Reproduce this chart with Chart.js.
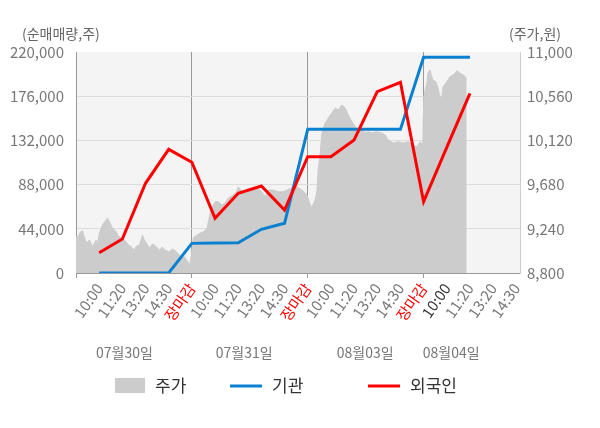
<!DOCTYPE html>
<html>
<head>
<meta charset="utf-8">
<script src="https://cdn.jsdelivr.net/npm/chart.js@4"></script>
<style>
  html, body { margin: 0; padding: 0; background: #fff; }
  #wrap { width: 600px; height: 428px; }
</style>
</head>
<body>
<div id="wrap"><canvas id="c" width="600" height="428"></canvas></div>
<script>
// ============================================================
// DATA
// ============================================================
const xLabels = ['10:00', '11:20', '13:20', '14:30', '장마감',
                 '10:00', '11:20', '13:20', '14:30', '장마감',
                 '10:00', '11:20', '13:20', '14:30', '장마감',
                 '10:00', '11:20', '13:20', '14:30'];
const dayLabels = ['07월30일', '07월31일', '08월03일', '08월04일'];

// net buying (shares), one value per labelled slot from slot 1
const foreignNet = [20200, 33800, 89300, 123100, 110200, 54400, 79300, 86600, 62700,
                    115800, 115800, 132400, 180500, 189800, 71000, 125000, 178900];
const instNet = [0, 0, 0, 0, 29500, 29800, 30000, 43500, 49500,
                 143000, 143000, 143000, 143000, 143000, 214700, 214700, 214700];

// intraday price (won), x in slot units
const priceSlot = [
  0, 0.08, 0.19, 0.28, 0.37, 0.45, 0.58, 0.71, 0.87, 0.93, 1.01, 1.14, 1.30, 1.36, 1.44, 1.57, 1.73, 1.83, 1.95,
  2.16, 2.26, 2.38, 2.52, 2.61, 2.74, 2.87, 2.95, 3.03, 3.17, 3.30, 3.38, 3.60, 3.73, 3.81, 4.03, 4.16, 4.25,
  4.46, 4.59, 4.68, 4.81, 4.91, 4.98,
  5.06, 5.22, 5.37, 5.50, 5.66, 5.71, 5.80, 5.87, 6.01, 6.14, 6.30, 6.44, 6.57, 6.79, 6.92, 7.00, 7.16, 7.31,
  7.52, 7.74, 7.95, 8.17, 8.30, 8.51, 8.73, 8.94, 9.10, 9.32, 9.53, 9.75, 9.89,
  9.97, 10.11, 10.18, 10.32, 10.40, 10.45, 10.54, 10.61, 10.75, 10.88, 11.04, 11.19, 11.31, 11.47, 11.62, 11.75,
  11.91, 12.05, 12.18, 12.34, 12.48, 12.61, 12.77, 12.98, 13.20, 13.34, 13.47, 13.69, 13.90, 14.12, 14.33, 14.55,
  14.71, 14.85, 14.96,
  15.01, 15.06, 15.13, 15.19, 15.28, 15.35, 15.41, 15.53, 15.62, 15.71, 15.78, 15.84, 16.00, 16.14, 16.27, 16.36,
  16.43, 16.58, 16.72, 16.86
];
const price = [
  9158, 9161, 9208, 9221, 9148, 9099, 9129, 9062, 9129, 9089, 9198, 9278, 9328, 9348, 9311, 9248, 9211, 9168, 9148,
  9112, 9079, 9062, 9029, 9069, 9079, 9178, 9129, 9099, 9049, 9089, 9079, 9029, 9059, 9029, 9012, 9039, 9029,
  8979, 8949, 8962, 8919, 8880, 8979,
  9148, 9178, 9198, 9211, 9248, 9311, 9407, 9460, 9510, 9510, 9477, 9497, 9547, 9576, 9606, 9659, 9609, 9609,
  9626, 9646, 9626, 9560, 9626, 9626, 9609, 9609, 9626, 9646, 9659, 9626, 9596,
  9576, 9477, 9460, 9527, 9626, 9825, 9995, 10194, 10293, 10343, 10393, 10443, 10423, 10472, 10443, 10373,
  10306, 10256, 10224, 10243, 10194, 10207, 10194, 10207, 10194, 10174, 10124, 10094, 10107, 10094, 10107, 10074,
  10057, 10107, 10074,
  10539, 10622, 10672, 10791, 10821, 10754, 10721, 10704, 10642, 10552, 10542, 10655, 10704, 10754, 10771, 10788,
  10814, 10788, 10771, 10738
];

const volTicks = [0, 44000, 88000, 132000, 176000, 220000];
const priceTicks = [8800, 9240, 9680, 10120, 10560, 11000];

// ============================================================
// CHART
// ============================================================
const FONT = '"Noto Sans CJK KR", "Noto Sans", sans-serif';
const RED = '#ff0000', BLUE = '#0a80d0', GRAY = '#cccccc';

const slotPoints = vals => vals.map((v, i) => ({ x: i + 1, y: v }));
const isClose = v => v > 0 && v % 5 === 0;

const bgPlugin = {
  id: 'plotBg',
  beforeDraw(chart) {
    const { ctx, chartArea: a } = chart;
    ctx.save();
    ctx.fillStyle = '#f4f4f4';
    ctx.fillRect(a.left, a.top, a.right - a.left, a.bottom - a.top);
    ctx.restore();
  }
};

const extrasPlugin = {
  id: 'extras',
  afterDraw(chart) {
    const { ctx } = chart;
    const xs = chart.scales.x;
    ctx.save();
    ctx.textBaseline = 'middle';

    // axis titles
    ctx.font = '14px ' + FONT;
    ctx.fillStyle = '#666';
    ctx.textAlign = 'left';
    ctx.fillText('(순매매량,주)', 22, 34);
    ctx.fillText('(주가,원)', 509, 34);

    // day labels under the time ticks
    const dayAt = [2.09, 7.26, 12.48, 16.19];
    ctx.font = '14px ' + FONT;
    ctx.fillStyle = '#777';
    ctx.textAlign = 'center';
    dayLabels.forEach((d, i) => ctx.fillText(d, xs.getPixelForValue(dayAt[i]), 353));

    // legend
    const y = 386;
    ctx.font = '17px ' + FONT;
    ctx.textAlign = 'left';
    ctx.fillStyle = GRAY;
    ctx.fillRect(115, 378, 30, 15);
    ctx.fillStyle = '#333';
    ctx.fillText('주가', 155, y);

    ctx.lineWidth = 3;
    ctx.strokeStyle = BLUE;
    ctx.beginPath(); ctx.moveTo(230, y); ctx.lineTo(262, y); ctx.stroke();
    ctx.fillText('기관', 272, y);

    ctx.strokeStyle = RED;
    ctx.beginPath(); ctx.moveTo(368, y); ctx.lineTo(400, y); ctx.stroke();
    ctx.fillText('외국인', 410, y);
    ctx.restore();
  }
};

new Chart(document.getElementById('c').getContext('2d'), {
  type: 'line',
  data: {
    datasets: [
      { label: '외국인', data: slotPoints(foreignNet), yAxisID: 'y', borderColor: RED, borderWidth: 3, pointRadius: 0, tension: 0, fill: false },
      { label: '기관', data: slotPoints(instNet), yAxisID: 'y', borderColor: BLUE, borderWidth: 3, pointRadius: 0, tension: 0, fill: false },
      { label: '주가', data: priceSlot.map((s, i) => ({ x: s, y: price[i] })), yAxisID: 'y1', borderColor: GRAY, backgroundColor: GRAY, borderWidth: 1, pointRadius: 0, tension: 0, fill: 'start' }
    ]
  },
  options: {
    responsive: false,
    animation: false,
    layout: { padding: { top: 52, left: 0, right: 0, bottom: 0 } },
    plugins: { legend: { display: false }, tooltip: { enabled: false } },
    scales: {
      x: {
        type: 'linear',
        min: 0,
        max: 19.16,
        afterBuildTicks: s => { s.ticks = [0].concat(xLabels.map((l, i) => ({ value: i + 1 }))).map(t => typeof t === 'number' ? { value: t } : t); },
        afterFit: s => { s.height = 155; },
        border: { color: '#999' },
        grid: {
          color: c => isClose(c.tick.value) ? '#999' : 'rgba(0,0,0,0)',
          tickColor: c => (isClose(c.tick.value) || c.tick.value === 0) ? '#999' : 'rgba(0,0,0,0)',
          tickLength: 5
        },
        ticks: {
          autoSkip: false,
          minRotation: 55,
          maxRotation: 55,
          padding: 2,
          font: { family: FONT, size: 15 },
          color: c => {
            const v = c.tick.value;
            if (isClose(v)) return RED;
            if (v === 16) return '#333';
            return '#777';
          },
          callback: v => v >= 1 ? xLabels[v - 1] : ''
        }
      },
      y: {
        position: 'left',
        min: 0,
        max: 220000,
        afterBuildTicks: s => { s.ticks = volTicks.map(v => ({ value: v })); },
        afterFit: s => { s.width = 76; },
        border: { color: '#999' },
        grid: {
          drawTicks: false,
          color: c => (c.tick.value === 0 || c.tick.value === 220000) ? 'rgba(0,0,0,0)' : '#dddddd'
        },
        ticks: {
          padding: 12,
          font: { family: FONT, size: 15 },
          color: '#777',
          callback: v => v.toLocaleString('en-US')
        }
      },
      y1: {
        position: 'right',
        min: 8800,
        max: 11000,
        afterBuildTicks: s => { s.ticks = priceTicks.map(v => ({ value: v })); },
        afterFit: s => { s.width = 80; },
        border: { color: '#cccccc' },
        grid: { display: false, drawTicks: false },
        ticks: {
          padding: 7,
          font: { family: FONT, size: 15 },
          color: '#777',
          callback: v => v.toLocaleString('en-US')
        }
      }
    }
  },
  plugins: [bgPlugin, extrasPlugin]
});
</script>
</body>
</html>
